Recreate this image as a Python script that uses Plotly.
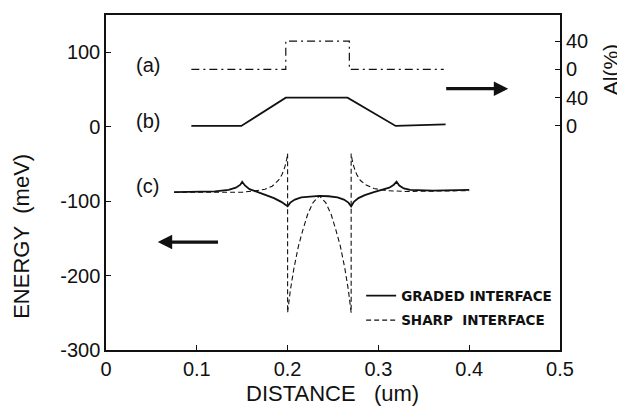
import plotly.graph_objects as go

# ---- data (distance in um, energy in meV) ----
a_x = [0.094, 0.198, 0.198, 0.268, 0.268, 0.372]
a_y = [77, 77, 115, 115, 77, 77]

b_x = [0.094, 0.149, 0.198, 0.266, 0.319, 0.374]
b_y = [1, 1, 39, 39, 1, 3]

graded_x = [0.075, 0.100, 0.120, 0.135, 0.143, 0.148, 0.150, 0.153, 0.158, 0.165,
            0.175, 0.185, 0.193, 0.198, 0.200, 0.203, 0.208, 0.215, 0.225, 0.235,
            0.245, 0.255, 0.262, 0.267, 0.270, 0.273, 0.278, 0.285, 0.295, 0.305,
            0.312, 0.317, 0.320, 0.323, 0.328, 0.335, 0.360, 0.400]
graded_y = [-88, -88, -87, -85, -82, -78, -74, -79, -84, -87,
            -91, -96, -101, -105, -107, -102, -98, -95, -93.5, -93,
            -93.5, -95, -98, -102, -107, -101, -96, -92, -88, -85,
            -82, -78, -74, -79, -83, -85, -86, -85]

sharp_x = [0.075, 0.120, 0.150, 0.165, 0.175, 0.183, 0.190, 0.194, 0.197, 0.199,
           0.200, 0.200, 0.203, 0.207, 0.212, 0.217, 0.222, 0.228, 0.235, 0.242,
           0.248, 0.253, 0.258, 0.263, 0.267, 0.270, 0.270, 0.271, 0.273, 0.276,
           0.280, 0.286, 0.295, 0.310, 0.330, 0.400]
sharp_y = [-88, -88, -88, -86, -84, -80, -72, -64, -54, -44,
           -36, -250, -220, -190, -160, -138, -118, -102, -93, -102,
           -118, -138, -160, -190, -220, -250, -36, -44, -54, -64,
           -72, -78, -83, -86, -87, -86]

x_ticks = [0, 0.1, 0.2, 0.3, 0.4, 0.5]
x_ticktext = ["0", "0.1", "0.2", "0.3", "0.4", "0.5"]
y_ticks = [-300, -200, -100, 0, 100]
y_ticktext = ["-300", "-200", "-100", "0", "100"]
al_tickvals = [1, 39, 77, 115]
al_ticktext = ["0", "40", "0", "40"]

curve_labels = ["(a)", "(b)", "(c)"]
curve_label_x = [0.046, 0.046, 0.046]
curve_label_y = [83, 7, -80]

# arrows: (tail_x, tail_y, head_x, head_y)
arrow_right = (0.373, 51, 0.443, 51)
arrow_left = (0.125, -155, 0.057, -155)

FONT = "Liberation Sans, Arial, sans-serif"
INK = "#111111"

fig = go.Figure()

fig.add_trace(go.Scatter(x=a_x, y=a_y, mode="lines", yaxis="y2",
                         line=dict(color=INK, width=1.2, dash="8px,4px,2px,4px"),
                         showlegend=False, hoverinfo="skip"))
fig.add_trace(go.Scatter(x=b_x, y=b_y, mode="lines", yaxis="y2",
                         line=dict(color=INK, width=1.8),
                         showlegend=False, hoverinfo="skip"))
fig.add_trace(go.Scatter(x=sharp_x, y=sharp_y, mode="lines",
                         name="SHARP\u00a0\u00a0INTERFACE", legendgroup="s", legendrank=2,
                         line=dict(color=INK, width=1.1, dash="5px,3px")))
fig.add_trace(go.Scatter(x=graded_x, y=graded_y, mode="lines",
                         name="GRADED INTERFACE", legendgroup="g", legendrank=1,
                         line=dict(color=INK, width=1.8)))

annotations = []
for t, x, y in zip(curve_labels, curve_label_x, curve_label_y):
    annotations.append(dict(x=x, y=y, xref="x", yref="y", text=t, showarrow=False,
                            xanchor="center", yanchor="middle",
                            font=dict(family=FONT, size=20, color=INK)))

for (tx, ty, hx, hy) in (arrow_right, arrow_left):
    annotations.append(dict(x=hx, y=hy, ax=tx, ay=ty, xref="x", yref="y",
                            axref="x", ayref="y", text="", showarrow=True,
                            arrowhead=2, arrowsize=0.9, arrowwidth=3.2, arrowcolor=INK))

annotations.append(dict(x=0.249, y=-0.13, xref="x", yref="paper",
                        xanchor="center", yanchor="middle",
                        text="DISTANCE\u00a0\u00a0\u00a0(um)", showarrow=False,
                        font=dict(family=FONT, size=22, color=INK)))
annotations.append(dict(x=-0.185, y=-148, xref="paper", yref="y",
                        xanchor="center", yanchor="middle",
                        text="ENERGY\u00a0\u00a0(meV)", showarrow=False, textangle=-90,
                        font=dict(family=FONT, size=22, color=INK)))
annotations.append(dict(x=1.11, y=77, xref="paper", yref="y",
                        xanchor="center", yanchor="middle",
                        text="Al(%)", showarrow=False, textangle=-90,
                        font=dict(family=FONT, size=21, color=INK)))

# the page body adds an 8px margin at top/left, so the figure is 8px smaller
fig.update_layout(
    width=617, height=398,
    margin=dict(l=98, r=65, t=5, b=56),
    paper_bgcolor="white", plot_bgcolor="white",
    font=dict(family=FONT, color=INK),
    xaxis=dict(range=[0, 0.5], tickvals=x_ticks, ticktext=x_ticktext,
               ticks="inside", ticklen=5, tickwidth=1.2, tickcolor=INK,
               showline=True, linecolor=INK, linewidth=1.5, mirror=True,
               showgrid=False, zeroline=False,
               tickfont=dict(family=FONT, size=20, color=INK)),
    yaxis=dict(range=[-300, 150], tickvals=y_ticks, ticktext=y_ticktext,
               ticks="inside", ticklen=5, tickwidth=1.2, tickcolor=INK,
               showline=True, linecolor=INK, linewidth=1.5, mirror=True,
               showgrid=False, zeroline=False, ticklabelstandoff=0,
               tickfont=dict(family=FONT, size=20, color=INK)),
    yaxis2=dict(range=[-300, 150], overlaying="y", side="right",
                tickvals=al_tickvals, ticktext=al_ticktext,
                ticks="inside", ticklen=5, tickwidth=1.2, tickcolor=INK,
                showline=False, showgrid=False, zeroline=False, ticklabelstandoff=5,
                tickfont=dict(family=FONT, size=20, color=INK)),
    legend=dict(x=0.562, y=0.208, xanchor="left", yanchor="top",
                traceorder="grouped", tracegroupgap=4, itemwidth=30,
                bgcolor="rgba(0,0,0,0)",
                font=dict(family="DejaVu Sans", size=13.5, color=INK, weight="bold")),
    annotations=annotations,
)

fig.write_html("out.html")
